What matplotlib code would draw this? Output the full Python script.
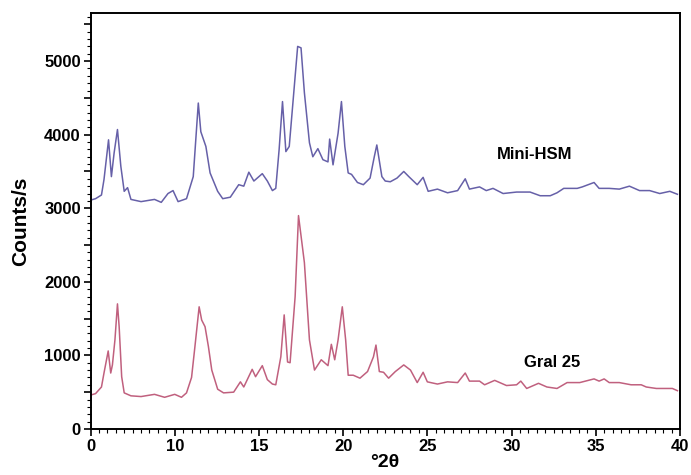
import numpy as np
import matplotlib.pyplot as plt
from matplotlib.ticker import MultipleLocator, FuncFormatter

# Mini-HSM (upper pattern)
hsm_x = [5.0, 5.3, 5.65, 5.8, 6.07, 6.24, 6.4, 6.6, 6.8, 7.0, 7.2, 7.4, 8.0, 8.8, 9.2,
         9.6, 9.9, 10.2, 10.7, 11.1, 11.4, 11.55, 11.85, 12.1, 12.55, 12.85, 13.3, 13.8,
         14.1, 14.4, 14.7, 15.2, 15.5, 15.8, 16.0, 16.2, 16.4, 16.6, 16.8, 17.05, 17.3,
         17.5, 17.7, 18.0, 18.2, 18.5, 18.8, 19.1, 19.2, 19.4, 19.7, 19.9, 20.1, 20.3,
         20.5, 20.85, 21.2, 21.6, 21.85, 22.0, 22.3, 22.5, 22.8, 23.2, 23.6, 23.9, 24.4,
         24.75, 25.05, 25.6, 26.2, 26.8, 27.25, 27.5, 28.1, 28.5, 28.9, 29.5, 30.3, 31.1,
         31.7, 32.3, 32.7, 33.1, 33.9, 34.2, 34.9, 35.2, 35.8, 36.4, 37.0, 37.6, 38.2,
         38.8, 39.4, 39.85]
hsm_y = [3110, 3130, 3180, 3390, 3930, 3430, 3750, 4070, 3570, 3230, 3280, 3120, 3090, 3120, 3080,
         3200, 3240, 3090, 3130, 3430, 4430, 4040, 3840, 3480, 3230, 3130, 3150, 3320,
         3300, 3490, 3370, 3470, 3370, 3240, 3270, 3800, 4450, 3770, 3840, 4520, 5200,
         5180, 4570, 3890, 3700, 3810, 3660, 3630, 3940, 3590, 4020, 4450, 3840, 3480,
         3460, 3350, 3320, 3410, 3700, 3860, 3430, 3370, 3360, 3410, 3500, 3430, 3320,
         3420, 3230, 3260, 3210, 3240, 3400, 3260, 3290, 3240, 3270, 3200, 3220, 3220,
         3170, 3170, 3210, 3270, 3270, 3290, 3350, 3270, 3270, 3260, 3300, 3240, 3240,
         3200, 3230, 3190]

# Gral 25 (lower pattern)
gral_x = [5.0, 5.3, 5.65, 5.8, 6.05, 6.2, 6.3, 6.45, 6.6, 6.7, 6.85, 7.0, 7.4, 8.0, 8.8,
          9.4, 10.0, 10.4, 10.7, 11.0, 11.2, 11.45, 11.6, 11.8, 12.0, 12.2, 12.55, 12.9,
          13.5, 13.9, 14.1, 14.6, 14.8, 15.2, 15.5, 15.8, 16.0, 16.3, 16.5, 16.7, 16.85,
          17.15, 17.35, 17.7, 18.0, 18.3, 18.7, 19.1, 19.3, 19.5, 19.7, 19.95, 20.15, 20.3,
          20.6, 21.0, 21.45, 21.8, 21.95, 22.15, 22.4, 22.7, 23.1, 23.6, 24.0, 24.4, 24.75,
          25.0, 25.6, 26.2, 26.8, 27.25, 27.5, 28.1, 28.4, 29.0, 29.7, 30.3, 30.55, 30.9,
          31.6, 32.1, 32.7, 33.3, 34.05, 34.9, 35.2, 35.5, 35.8, 36.4, 37.1, 37.7, 38.0,
          38.6, 39.2, 39.55, 39.85]
gral_y = [460, 480, 570, 760, 1060, 760, 870, 1210, 1700, 1390, 710, 490, 450, 440, 470,
          430, 470, 430, 490, 700, 1120, 1660, 1480, 1390, 1120, 800, 540, 490,
          500, 640, 570, 810, 710, 860, 670, 610, 600, 980, 1550, 910, 900,
          1800, 2900, 2260, 1210, 800, 940, 860, 1150, 940, 1210, 1660, 1210, 730,
          730, 690, 780, 980, 1140, 780, 770, 690, 780, 870, 800, 630, 770,
          640, 610, 640, 630, 760, 650, 650, 600, 660, 590, 600, 650, 550,
          620, 570, 550, 630, 630, 680, 650, 680, 630, 630, 600, 600, 570,
          550, 550, 550, 520]

x_ticks = [5, 10, 15, 20, 25, 30, 35, 40]
x_tick_labels = ['0', '10', '15', '20', '25', '30', '35', '40']

plt.rcParams['font.family'] = ['Liberation Sans', 'DejaVu Sans']
plt.rcParams['font.weight'] = 'bold'

fig = plt.figure(figsize=(6.91, 4.75), dpi=100)
ax = fig.add_axes([0.131, 0.097, 0.853, 0.875])

ax.plot(hsm_x, hsm_y, color='#6660a8', lw=1.1)
ax.plot(gral_x, gral_y, color='#c0607e', lw=1.1)

ax.text(31.4, 3730, 'Mini-HSM', fontsize=12, fontweight='bold', ha='center', va='center')
ax.text(32.4, 900, 'Gral 25', fontsize=12, fontweight='bold', ha='center', va='center')

ax.set_xlim(5, 40)
ax.set_ylim(0, 5650)

ax.set_xticks(x_ticks)
ax.set_xticklabels(x_tick_labels)
ax.xaxis.set_minor_locator(MultipleLocator(0.5))
ax.yaxis.set_major_locator(MultipleLocator(500))
ax.yaxis.set_major_formatter(FuncFormatter(lambda v, p: f'{int(v)}' if v % 1000 == 0 else ''))
ax.yaxis.set_minor_locator(MultipleLocator(100))

ax.tick_params(axis='both', which='major', direction='out', length=5, width=1.2,
               labelsize=12, pad=2)
ax.tick_params(axis='both', which='minor', direction='out', length=3, width=0.8)
for lbl in ax.get_xticklabels() + ax.get_yticklabels():
    lbl.set_fontweight('bold')

for s in ax.spines.values():
    s.set_linewidth(1.4)

ax.set_ylabel('Counts/s', fontsize=15, fontweight='bold', labelpad=10)
ax.set_xlabel('°2θ', fontsize=14, fontweight='bold', labelpad=0)

fig.savefig('out.png', dpi=100)
